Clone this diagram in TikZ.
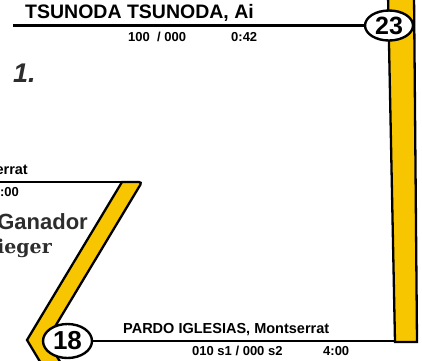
\documentclass[tikz,border=0pt]{standalone}
\usepackage{fontspec}
\setmainfont{Liberation Sans}
\newfontfamily\serifb{DejaVu Serif}
\usetikzlibrary{shapes.geometric}
\definecolor{bandyellow}{RGB}{248,198,0}
\definecolor{darktext}{RGB}{45,45,45}
\tikzset{
  bandshape/.style={fill=bandyellow, draw=black, line width=2.3pt, line join=miter},
  rule/.style={draw=black, line width=2.4pt},
  badge/.style={ellipse, draw=black, line width=2.4pt, fill=white, inner sep=0pt},
  namelbl/.style={inner sep=0pt, font=\bfseries\fontsize{14.5}{16}\selectfont},
  sublbl/.style={inner sep=0pt, font=\bfseries\fontsize{13}{15}\selectfont},
}
\begin{document}
\begin{tikzpicture}[x=1pt,y=-1pt]
\useasboundingbox (0,0) rectangle (422,360);
\clip (0,0) rectangle (422,360);
\fill[white] (0,0) rectangle (422,360);
% right vertical bar
\draw[bandshape] (388,-6) -- (395,342) -- (417,342) -- (414,-6) -- cycle;
% zig-zag band
\draw[bandshape] (131,182) [rounded corners=3pt] -- (142,182) -- (47,340) [sharp corners] -- (68,375) -- (48,375) -- (27,340) -- (122,182) -- cycle;
% coordinates for rule ends
\coordinate (tl) at (13,25.5);
\coordinate (ml) at (-2,182);
\coordinate (bandtop) at (123,182);
\coordinate (barfoot) at (395,341);
% badges
\node[badge, minimum width=48pt, minimum height=30pt] (c23) at (389,25.5) {\bfseries\fontsize{25}{27}\selectfont 23};
\node[badge, minimum width=49pt, minimum height=34pt] (c18) at (67.5,341) {\bfseries\fontsize{26}{28}\selectfont 18};
% rules
\draw[rule] (tl) -- (c23);
\draw[rule] (ml) -- (bandtop);
\draw[rule] (c18) -- (barfoot);
% texts top
\node[inner sep=0pt, anchor=base west, font=\bfseries\fontsize{19.5}{21}\selectfont] (name1) at (25,18.5) {TSUNODA TSUNODA, Ai};
\node[sublbl, anchor=base west] (score1) at (128,41) {100\ \ / 000};
\node[sublbl, anchor=base west] (time1) at (231,41) {0:42};
\node[inner sep=0pt, anchor=base west, text=darktext, font=\bfseries\itshape\fontsize{27}{29}\selectfont] (rank) at (13,82) {1.};
% texts left middle
\node[namelbl, anchor=base east] (name0) at (28,174) {errat};
\node[sublbl, anchor=base east] (time0) at (19,196) {:00};
\node[inner sep=0pt, anchor=base east, text=darktext, font=\bfseries\fontsize{22}{24}\selectfont] (gan) at (88,229) {Ganador};
\node[inner sep=0pt, anchor=base east, text=darktext, font=\serifb\bfseries\fontsize{19}{21}\selectfont] (sieg) at (52,253) {ieger};
% texts bottom
\node[namelbl, anchor=base west] (name2) at (123,333) {PARDO IGLESIAS, Montserrat};
\node[sublbl, anchor=base west] (score2) at (192,355) {010 s1 / 000 s2};
\node[sublbl, anchor=base west] (time2) at (323,355) {4:00};
\end{tikzpicture}
\end{document}
